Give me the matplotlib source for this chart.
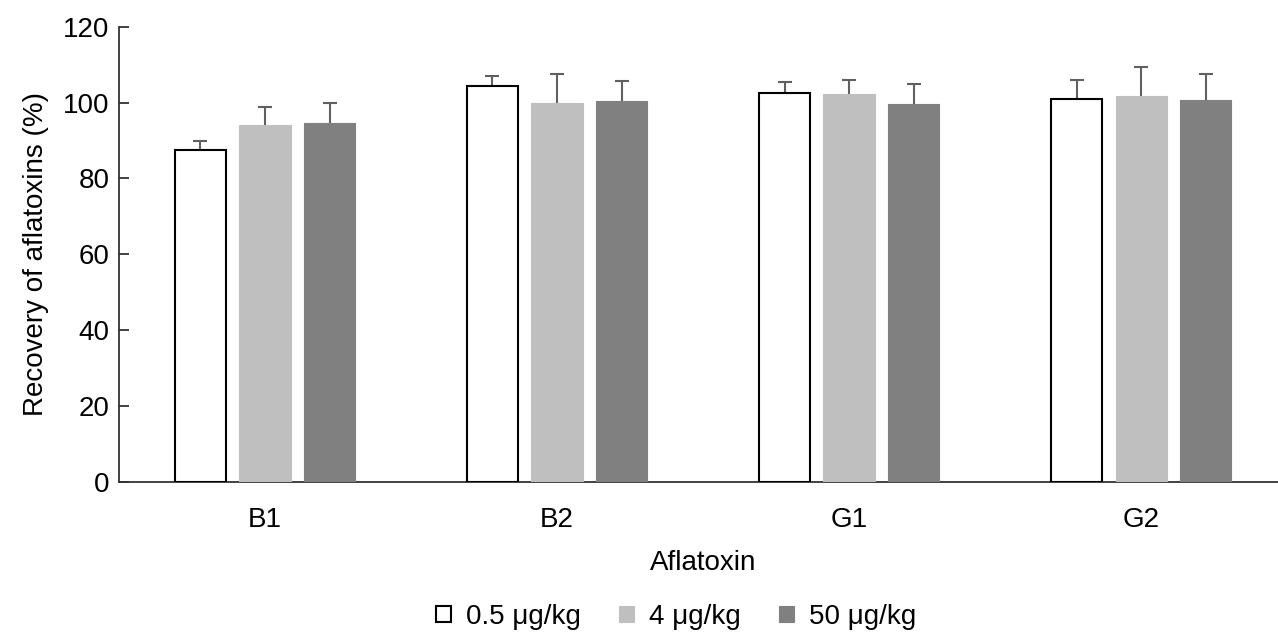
import numpy as np
import matplotlib.pyplot as plt

plt.rcParams['font.family'] = ['Liberation Sans', 'DejaVu Sans']

# data
toxins = ['B1', 'B2', 'G1', 'G2']
levels = ['0.5 μg/kg', '4 μg/kg', '50 μg/kg']
recovery = [
    [87.4, 104.4, 102.6, 101.0],   # 0.5 ug/kg
    [94.1, 100.0, 102.3, 101.8],   # 4 ug/kg
    [94.6, 100.3, 99.6, 100.6],    # 50 ug/kg
]
sd = [
    [2.6, 2.6, 2.8, 4.9],
    [4.7, 7.6, 3.6, 7.5],
    [5.2, 5.3, 5.2, 6.9],
]

face = ['white', '#c0bfbf', '#7f807f']
edge = ['black', '#c0bfbf', '#7f807f']
fs = 20

fig = plt.figure(figsize=(12.78, 6.32), dpi=100)
ax = fig.add_axes([0.0931, 0.2373, 0.914, 0.7204])

x = np.arange(len(toxins))
w = 0.175
step = 0.221
for i in range(3):
    pos = x + (i - 1) * step
    ax.bar(pos, recovery[i], width=w, color=face[i], edgecolor=edge[i],
           linewidth=1.5 if i == 0 else 0.8, label=levels[i], zorder=3)
    # error bars sit behind the bars so only the upper half shows
    ax.errorbar(pos, recovery[i], yerr=sd[i], fmt='none', ecolor='#606060',
                elinewidth=1.5, capsize=5, capthick=1.5, zorder=2)

ax.set_xlim(-0.5, 3.5)
ax.set_ylim(0, 120)
ax.set_yticks(range(0, 121, 20))
ax.set_xticks(x)
ax.set_xticklabels(toxins)

ax.spines['top'].set_visible(False)
ax.spines['right'].set_visible(False)
for s in ['left', 'bottom']:
    ax.spines[s].set_color('#333333')
    ax.spines[s].set_linewidth(1.3)
ax.tick_params(axis='y', direction='in', length=7, width=1.3, color='#333333',
               labelsize=fs, pad=7)
ax.tick_params(axis='x', length=0, labelsize=fs, pad=18)

ax.set_xlabel('Aflatoxin', fontsize=fs, labelpad=12)
ax.set_ylabel('Recovery of aflatoxins (%)', fontsize=fs, labelpad=10)

fig.legend(loc='lower center', bbox_to_anchor=(0.529, -0.036), ncol=3, frameon=False,
           fontsize=fs, handlelength=0.55, handleheight=0.55, handletextpad=0.55,
           columnspacing=1.35)

fig.savefig('out.png', dpi=100)
